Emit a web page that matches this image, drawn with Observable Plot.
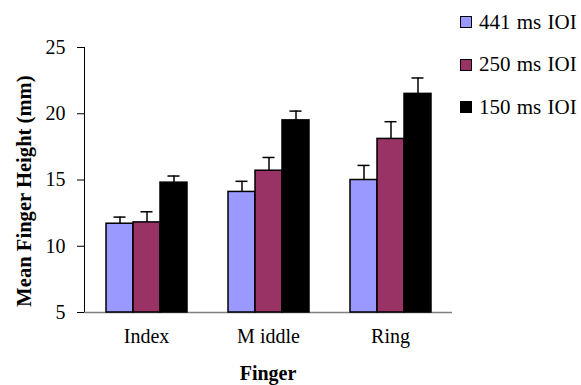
<!DOCTYPE html>
<html>
<head>
<meta charset="utf-8">
<script src="https://cdn.jsdelivr.net/npm/d3@7"></script>
<script src="https://cdn.jsdelivr.net/npm/@observablehq/plot@0.6"></script>
<style>
  html, body { margin: 0; padding: 0; background: #fff; }
  #wrap { position: relative; width: 581px; height: 385px; overflow: hidden;
          font-family: "Liberation Serif", "Times New Roman", serif; color: #000; }
  #wrap svg { position: absolute; left: 0; top: 0; }
  .ytitle { position: absolute; left: 24px; top: 191px; transform: translate(-50%, -50%) rotate(-90deg);
            white-space: nowrap; font-weight: bold; font-size: 20.6px; }
  .xtitle { position: absolute; left: 268px; top: 361px; transform: translateX(-50%);
            white-space: nowrap; font-weight: bold; font-size: 20px; line-height: 24px; }
  .legend { position: absolute; left: 460px; top: 11px; }
  .legend .row { display: flex; align-items: center; height: 22px; margin-bottom: 20.5px; font-size: 21px; white-space: nowrap; word-spacing: 1px; }
  .legend .sw { width: 10px; height: 10px; border: 1.5px solid #000; margin-right: 7px; flex: none; }
</style>
</head>
<body>
<div id="wrap"></div>
<script>
const fingers = ["Index", "M iddle", "Ring"];
const series = ["441 ms IOI", "250 ms IOI", "150 ms IOI"];
const colors = ["#9999ff", "#993366", "#000000"];
const mean441 = [11.7, 14.1, 15.0];
const mean250 = [11.8, 15.7, 18.1];
const mean150 = [14.8, 19.5, 21.5];
const err441 = [0.5, 0.8, 1.1];
const err250 = [0.8, 1.0, 1.3];
const err150 = [0.5, 0.7, 1.2];
const yTicks = [5, 10, 15, 20, 25];
const yMin = 5, yMax = 25;

const means = [mean441, mean250, mean150];
const errs = [err441, err250, err150];
const rows = [];
fingers.forEach((f, i) => series.forEach((s, j) => rows.push({finger: f, series: s, mean: means[j][i], err: errs[j][i]})));

const common = {
  width: 581, height: 385,
  marginLeft: 84, marginRight: 129, marginTop: 47, marginBottom: 73,
  style: {fontFamily: '"Liberation Serif", "Times New Roman", serif', fontSize: "20px", color: "#000", background: "transparent", overflow: "visible"}
};

// axis layer (y axis + baseline)
const axisLayer = Plot.plot({
  ...common,
  x: {domain: [0, 1], axis: null},
  y: {domain: [yMin, yMax], ticks: yTicks, tickSize: 7, tickPadding: 12, label: null, line: true},
  marks: [
    Plot.ruleY([yMin], {stroke: "#808080", strokeWidth: 1.5})
  ]
});

// bars layer (grouped by finger)
const chart = Plot.plot({
  ...common,
  facet: {data: rows, x: "finger"},
  fx: {domain: fingers, paddingInner: 0.33, paddingOuter: 0.165, label: null, tickSize: 0, tickPadding: 16, axis: "bottom"},
  x: {domain: series, padding: 0, axis: null},
  y: {domain: [yMin, yMax], axis: null},
  color: {domain: series, range: colors},
  marks: [
    Plot.ruleX(rows, {x: "series", y1: "mean", y2: d => d.mean + d.err, stroke: "#000", strokeWidth: 1.5}),
    Plot.tickY(rows, {x: "series", y: d => d.mean + d.err, stroke: "#000", strokeWidth: 1.5, insetLeft: 7.5, insetRight: 7.5}),
    Plot.barY(rows, {x: "series", y1: d => yMin, y2: "mean", fill: "series", stroke: "#000", strokeWidth: 1.5})
  ]
});

const wrap = document.getElementById("wrap");
wrap.appendChild(axisLayer);
wrap.appendChild(chart);

const yt = document.createElement("div");
yt.className = "ytitle"; yt.textContent = "Mean Finger Height (mm)";
wrap.appendChild(yt);
const xt = document.createElement("div");
xt.className = "xtitle"; xt.textContent = "Finger";
wrap.appendChild(xt);

const lg = document.createElement("div");
lg.className = "legend";
series.forEach((s, j) => {
  const r = document.createElement("div"); r.className = "row";
  const sw = document.createElement("span"); sw.className = "sw"; sw.style.background = colors[j];
  const t = document.createElement("span"); t.textContent = s;
  r.appendChild(sw); r.appendChild(t); lg.appendChild(r);
});
wrap.appendChild(lg);
</script>
</body>
</html>
